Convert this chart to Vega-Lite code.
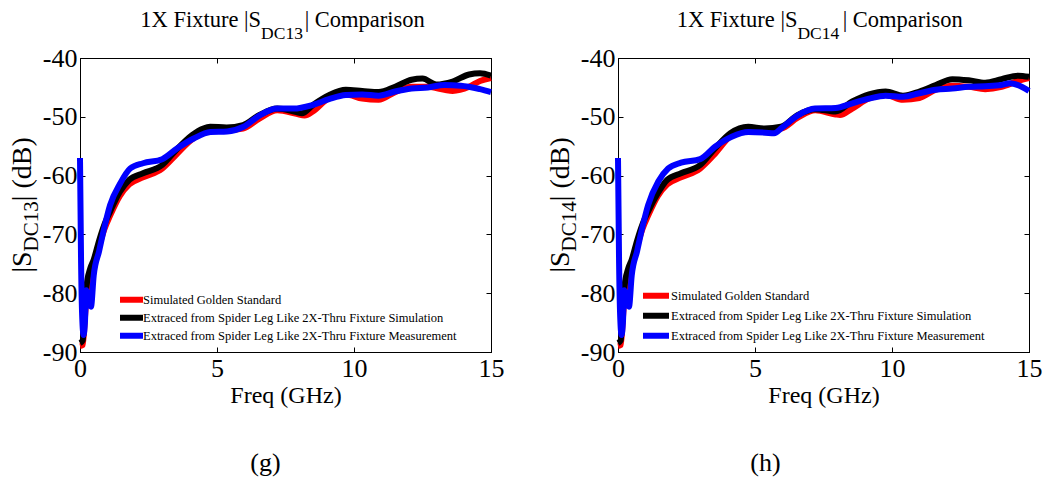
{
  "$schema": "https://vega.github.io/schema/vega-lite/v6.json",
  "background": "white",
  "padding": {"left": 8, "top": 8, "right": 5, "bottom": 5},
  "datasets": {
    "g": [
      {"s":"R","f":0,"v":-89},{"s":"R","f":0.1,"v":-88.8},{"s":"R","f":0.2,"v":-83},{"s":"R","f":0.3,"v":-78.8},{"s":"R","f":0.5,"v":-75.5},{"s":"R","f":0.7,"v":-72},{"s":"R","f":0.9,"v":-69},{"s":"R","f":1.1,"v":-66.8},{"s":"R","f":1.45,"v":-63.5},{"s":"R","f":1.8,"v":-61.5},{"s":"R","f":2.3,"v":-60.3},{"s":"R","f":3.0,"v":-58.8},{"s":"R","f":3.5,"v":-56.5},{"s":"R","f":4.1,"v":-53.8},{"s":"R","f":4.75,"v":-52.3},{"s":"R","f":5.35,"v":-52.3},{"s":"R","f":5.95,"v":-52.0},{"s":"R","f":6.55,"v":-50.3},{"s":"R","f":7.2,"v":-48.9},{"s":"R","f":7.9,"v":-49.5},{"s":"R","f":8.2,"v":-49.8},{"s":"R","f":8.5,"v":-49.1},{"s":"R","f":9.1,"v":-46.8},{"s":"R","f":9.7,"v":-46.2},{"s":"R","f":10.3,"v":-46.9},{"s":"R","f":10.9,"v":-47.1},{"s":"R","f":11.5,"v":-45.8},{"s":"R","f":12.1,"v":-44.9},{"s":"R","f":12.7,"v":-44.9},{"s":"R","f":13.3,"v":-45.4},{"s":"R","f":13.6,"v":-45.6},{"s":"R","f":14.2,"v":-44.9},{"s":"R","f":14.6,"v":-43.9},{"s":"R","f":15,"v":-43.4},
      {"s":"K","f":0,"v":-88.5},{"s":"K","f":0.1,"v":-88},{"s":"K","f":0.19,"v":-81},{"s":"K","f":0.26,"v":-78},{"s":"K","f":0.38,"v":-75.7},{"s":"K","f":0.5,"v":-74.3},{"s":"K","f":0.7,"v":-71},{"s":"K","f":0.9,"v":-68.2},{"s":"K","f":1.1,"v":-66.1},{"s":"K","f":1.45,"v":-62.8},{"s":"K","f":1.8,"v":-60.7},{"s":"K","f":2.3,"v":-59.6},{"s":"K","f":3.0,"v":-58.2},{"s":"K","f":3.5,"v":-55.7},{"s":"K","f":4.1,"v":-53.1},{"s":"K","f":4.5,"v":-52.0},{"s":"K","f":4.75,"v":-51.7},{"s":"K","f":5.35,"v":-51.8},{"s":"K","f":5.95,"v":-51.4},{"s":"K","f":6.55,"v":-49.7},{"s":"K","f":7.2,"v":-48.6},{"s":"K","f":7.9,"v":-49.2},{"s":"K","f":8.1,"v":-49.4},{"s":"K","f":8.5,"v":-48.0},{"s":"K","f":9.1,"v":-46.3},{"s":"K","f":9.7,"v":-45.4},{"s":"K","f":10.3,"v":-45.6},{"s":"K","f":10.9,"v":-45.8},{"s":"K","f":11.5,"v":-44.9},{"s":"K","f":12.1,"v":-43.7},{"s":"K","f":12.5,"v":-43.5},{"s":"K","f":13.0,"v":-44.5},{"s":"K","f":13.6,"v":-44.0},{"s":"K","f":14.2,"v":-42.8},{"s":"K","f":14.6,"v":-42.6},{"s":"K","f":15,"v":-43.0},
      {"s":"B","f":0,"v":-57},{"s":"B","f":0.04,"v":-75},{"s":"B","f":0.08,"v":-84},{"s":"B","f":0.13,"v":-87.1},{"s":"B","f":0.18,"v":-85},{"s":"B","f":0.23,"v":-79.5},{"s":"B","f":0.3,"v":-80.5},{"s":"B","f":0.4,"v":-82.3},{"s":"B","f":0.5,"v":-77},{"s":"B","f":0.7,"v":-72.8},{"s":"B","f":0.9,"v":-68.6},{"s":"B","f":1.1,"v":-65},{"s":"B","f":1.47,"v":-61.3},{"s":"B","f":1.83,"v":-58.8},{"s":"B","f":2.3,"v":-57.9},{"s":"B","f":3.0,"v":-57.2},{"s":"B","f":3.54,"v":-55.4},{"s":"B","f":4.15,"v":-53.7},{"s":"B","f":4.76,"v":-52.6},{"s":"B","f":5.37,"v":-52.5},{"s":"B","f":5.97,"v":-51.7},{"s":"B","f":6.58,"v":-49.7},{"s":"B","f":7.19,"v":-48.6},{"s":"B","f":7.8,"v":-48.6},{"s":"B","f":8.48,"v":-48.0},{"s":"B","f":9.09,"v":-47.0},{"s":"B","f":9.7,"v":-46.3},{"s":"B","f":10.3,"v":-46.2},{"s":"B","f":10.9,"v":-46.4},{"s":"B","f":11.5,"v":-45.7},{"s":"B","f":12.1,"v":-45.2},{"s":"B","f":12.7,"v":-45.0},{"s":"B","f":13.3,"v":-44.6},{"s":"B","f":13.9,"v":-44.7},{"s":"B","f":14.6,"v":-45.3},{"s":"B","f":15,"v":-45.8}
    ],
    "h": [
      {"s":"R","f":0,"v":-89},{"s":"R","f":0.1,"v":-88.8},{"s":"R","f":0.2,"v":-83},{"s":"R","f":0.3,"v":-78.8},{"s":"R","f":0.5,"v":-75.5},{"s":"R","f":0.7,"v":-72},{"s":"R","f":0.9,"v":-69},{"s":"R","f":1.1,"v":-66.8},{"s":"R","f":1.45,"v":-63.5},{"s":"R","f":1.8,"v":-61.5},{"s":"R","f":2.3,"v":-60.3},{"s":"R","f":3.0,"v":-58.8},{"s":"R","f":3.5,"v":-56.5},{"s":"R","f":4.1,"v":-53.3},{"s":"R","f":4.75,"v":-52.0},{"s":"R","f":5.35,"v":-52.2},{"s":"R","f":5.95,"v":-52.0},{"s":"R","f":6.55,"v":-50.2},{"s":"R","f":7.2,"v":-48.9},{"s":"R","f":7.94,"v":-49.6},{"s":"R","f":8.1,"v":-49.7},{"s":"R","f":8.55,"v":-48.6},{"s":"R","f":9.16,"v":-46.9},{"s":"R","f":9.77,"v":-46.3},{"s":"R","f":10.4,"v":-47.1},{"s":"R","f":11.0,"v":-46.8},{"s":"R","f":11.6,"v":-45.4},{"s":"R","f":12.2,"v":-44.7},{"s":"R","f":12.8,"v":-44.9},{"s":"R","f":13.4,"v":-45.3},{"s":"R","f":14.0,"v":-44.9},{"s":"R","f":14.6,"v":-43.9},{"s":"R","f":15,"v":-43.4},
      {"s":"K","f":0,"v":-88.5},{"s":"K","f":0.1,"v":-88},{"s":"K","f":0.19,"v":-81},{"s":"K","f":0.26,"v":-78},{"s":"K","f":0.38,"v":-75.7},{"s":"K","f":0.5,"v":-74.3},{"s":"K","f":0.7,"v":-71},{"s":"K","f":0.9,"v":-68.2},{"s":"K","f":1.1,"v":-66.1},{"s":"K","f":1.45,"v":-63},{"s":"K","f":1.8,"v":-60.7},{"s":"K","f":2.3,"v":-59.6},{"s":"K","f":3.0,"v":-58.2},{"s":"K","f":3.5,"v":-55.6},{"s":"K","f":4.1,"v":-52.8},{"s":"K","f":4.75,"v":-51.7},{"s":"K","f":5.35,"v":-52.0},{"s":"K","f":5.95,"v":-51.7},{"s":"K","f":6.55,"v":-49.7},{"s":"K","f":7.2,"v":-48.7},{"s":"K","f":7.94,"v":-49.1},{"s":"K","f":8.55,"v":-47.4},{"s":"K","f":9.16,"v":-46.2},{"s":"K","f":9.77,"v":-45.7},{"s":"K","f":10.4,"v":-46.4},{"s":"K","f":11.0,"v":-45.7},{"s":"K","f":11.6,"v":-44.6},{"s":"K","f":12.2,"v":-43.6},{"s":"K","f":12.8,"v":-43.8},{"s":"K","f":13.4,"v":-44.2},{"s":"K","f":14.0,"v":-43.6},{"s":"K","f":14.6,"v":-43.0},{"s":"K","f":15,"v":-43.2},
      {"s":"B","f":0,"v":-57},{"s":"B","f":0.04,"v":-75},{"s":"B","f":0.08,"v":-84},{"s":"B","f":0.13,"v":-87.1},{"s":"B","f":0.18,"v":-85},{"s":"B","f":0.23,"v":-79.5},{"s":"B","f":0.3,"v":-80.5},{"s":"B","f":0.4,"v":-82.3},{"s":"B","f":0.5,"v":-77},{"s":"B","f":0.7,"v":-72.8},{"s":"B","f":0.9,"v":-68.6},{"s":"B","f":1.1,"v":-65},{"s":"B","f":1.47,"v":-61},{"s":"B","f":1.83,"v":-58.8},{"s":"B","f":2.3,"v":-57.8},{"s":"B","f":3.0,"v":-57.2},{"s":"B","f":3.54,"v":-55.1},{"s":"B","f":4.15,"v":-53.4},{"s":"B","f":4.76,"v":-52.6},{"s":"B","f":5.37,"v":-52.7},{"s":"B","f":5.7,"v":-52.8},{"s":"B","f":5.97,"v":-51.9},{"s":"B","f":6.58,"v":-49.7},{"s":"B","f":7.19,"v":-48.6},{"s":"B","f":7.94,"v":-48.5},{"s":"B","f":8.55,"v":-47.7},{"s":"B","f":9.16,"v":-46.9},{"s":"B","f":9.77,"v":-46.4},{"s":"B","f":10.4,"v":-46.6},{"s":"B","f":11.0,"v":-46.0},{"s":"B","f":11.6,"v":-45.4},{"s":"B","f":12.2,"v":-45.2},{"s":"B","f":12.8,"v":-44.9},{"s":"B","f":13.4,"v":-44.8},{"s":"B","f":14.0,"v":-44.6},{"s":"B","f":14.3,"v":-44.3},{"s":"B","f":14.6,"v":-44.6},{"s":"B","f":15,"v":-45.6}
    ]
  },
  "hconcat": [
    {
      "width": 411, "height": 294,
      "title": {"text": "(g)", "orient": "bottom", "anchor": "middle", "dx": -20, "offset": 43, "fontSize": 26, "font": "Liberation Serif", "fontWeight": "normal", "color": "black"},
      "data": {"name": "g"},
      "resolve": {"axis": {"x": "independent", "y": "independent"}},
      "layer": [
        {
          "mark": {"type": "line", "strokeWidth": 6, "interpolate": "monotone"},
          "encoding": {
            "x": {"field": "f", "type": "quantitative", "scale": {"domain": [0, 15], "nice": false, "zero": false},
                  "axis": {"values": [0, 5, 10, 15], "title": "Freq (GHz)", "labelExpr": "'' + datum.value", "labelFont": "Liberation Serif", "titleFont": "Liberation Serif"}},
            "y": {"field": "v", "type": "quantitative", "scale": {"domain": [-90, -40], "nice": false, "zero": false},
                  "axis": {"values": [-90, -80, -70, -60, -50, -40], "title": null, "labelExpr": "'' + datum.value", "labelFont": "Liberation Serif"}},
            "color": {"field": "s", "type": "nominal", "scale": {"domain": ["R", "K", "B"], "range": ["#ff0000", "#000000", "#0000ff"]},
                      "legend": {"orient": "none", "legendX": 37, "legendY": 234, "title": null, "symbolType": "stroke", "symbolStrokeWidth": 6, "symbolSize": 529, "labelFont": "Liberation Serif", "labelFontSize": 12.5, "labelColor": "black", "labelOffset": -3, "clipHeight": 15.5, "rowPadding": 2, "labelLimit": 0, "padding": 0,
                                 "labelExpr": "datum.value == 'R' ? 'Simulated Golden Standard' : datum.value == 'K' ? 'Extraced from Spider Leg Like 2X-Thru Fixture Simulation' : 'Extraced from Spider Leg Like 2X-Thru Fixture Measurement'"}}
          }
        },
        {
          "mark": {"type": "point", "opacity": 0},
          "encoding": {
            "x": {"field": "f", "type": "quantitative", "scale": {"domain": [0, 15], "nice": false, "zero": false},
                  "axis": {"orient": "top", "values": [0, 5, 10, 15], "labels": false, "title": null}},
            "y": {"field": "v", "type": "quantitative", "scale": {"domain": [-90, -40], "nice": false, "zero": false},
                  "axis": {"orient": "right", "values": [-90, -80, -70, -60, -50, -40], "labels": false, "title": null}}
          }
        },
        {"data": {"values": [{}]}, "mark": {"type": "text", "align": "right", "baseline": "alphabetic", "fontSize": 22.5, "font": "Liberation Serif", "color": "black"},
         "encoding": {"x": {"datum": 6.61, "type": "quantitative", "axis": null}, "y": {"datum": -34.68, "type": "quantitative", "axis": null}, "text": {"value": "1X Fixture |S"}}},
        {"data": {"values": [{}]}, "mark": {"type": "text", "align": "left", "baseline": "alphabetic", "fontSize": 17.5, "font": "Liberation Serif", "color": "black"},
         "encoding": {"x": {"datum": 6.61, "type": "quantitative", "axis": null}, "y": {"datum": -36.77, "type": "quantitative", "axis": null}, "text": {"value": "DC13"}}},
        {"data": {"values": [{}]}, "mark": {"type": "text", "align": "left", "baseline": "alphabetic", "fontSize": 22.5, "font": "Liberation Serif", "color": "black"},
         "encoding": {"x": {"datum": 8.2, "type": "quantitative", "axis": null}, "y": {"datum": -34.68, "type": "quantitative", "axis": null}, "text": {"value": "| Comparison"}}},
        {"data": {"values": [{}]}, "mark": {"type": "text", "align": "left", "baseline": "alphabetic", "angle": 270, "fontSize": 28, "font": "Liberation Serif", "color": "black"},
         "encoding": {"x": {"datum": -1.79, "type": "quantitative", "axis": null}, "y": {"datum": -76.5, "type": "quantitative", "axis": null}, "text": {"value": "|S"}}},
        {"data": {"values": [{}]}, "mark": {"type": "text", "align": "left", "baseline": "alphabetic", "angle": 270, "fontSize": 21, "font": "Liberation Serif", "color": "black"},
         "encoding": {"x": {"datum": -1.55, "type": "quantitative", "axis": null}, "y": {"datum": -72.89, "type": "quantitative", "axis": null}, "text": {"value": "DC13"}}},
        {"data": {"values": [{}]}, "mark": {"type": "text", "align": "left", "baseline": "alphabetic", "angle": 270, "fontSize": 28, "font": "Liberation Serif", "color": "black"},
         "encoding": {"x": {"datum": -1.79, "type": "quantitative", "axis": null}, "y": {"datum": -64.35, "type": "quantitative", "axis": null}, "text": {"value": "| (dB)"}}}
      ]
    },
    {
      "width": 411, "height": 294,
      "title": {"text": "(h)", "orient": "bottom", "anchor": "middle", "dx": -58, "offset": 43, "fontSize": 26, "font": "Liberation Serif", "fontWeight": "normal", "color": "black"},
      "data": {"name": "h"},
      "resolve": {"axis": {"x": "independent", "y": "independent"}},
      "layer": [
        {
          "mark": {"type": "line", "strokeWidth": 6, "interpolate": "monotone"},
          "encoding": {
            "x": {"field": "f", "type": "quantitative", "scale": {"domain": [0, 15], "nice": false, "zero": false},
                  "axis": {"values": [0, 5, 10, 15], "title": "Freq (GHz)", "labelExpr": "'' + datum.value", "labelFont": "Liberation Serif", "titleFont": "Liberation Serif"}},
            "y": {"field": "v", "type": "quantitative", "scale": {"domain": [-90, -40], "nice": false, "zero": false},
                  "axis": {"values": [-90, -80, -70, -60, -50, -40], "title": null, "labelExpr": "'' + datum.value", "labelFont": "Liberation Serif"}},
            "color": {"field": "s", "type": "nominal", "scale": {"domain": ["R", "K", "B"], "range": ["#ff0000", "#000000", "#0000ff"]},
                      "legend": {"orient": "none", "legendX": 22, "legendY": 229, "title": null, "symbolType": "stroke", "symbolStrokeWidth": 6, "symbolSize": 676, "labelFont": "Liberation Serif", "labelFontSize": 12.5, "labelColor": "black", "labelOffset": -1, "clipHeight": 17.5, "rowPadding": 2, "labelLimit": 0, "padding": 0,
                                 "labelExpr": "datum.value == 'R' ? 'Simulated Golden Standard' : datum.value == 'K' ? 'Extraced from Spider Leg Like 2X-Thru Fixture Simulation' : 'Extraced from Spider Leg Like 2X-Thru Fixture Measurement'"}}
          }
        },
        {
          "mark": {"type": "point", "opacity": 0},
          "encoding": {
            "x": {"field": "f", "type": "quantitative", "scale": {"domain": [0, 15], "nice": false, "zero": false},
                  "axis": {"orient": "top", "values": [0, 5, 10, 15], "labels": false, "title": null}},
            "y": {"field": "v", "type": "quantitative", "scale": {"domain": [-90, -40], "nice": false, "zero": false},
                  "axis": {"orient": "right", "values": [-90, -80, -70, -60, -50, -40], "labels": false, "title": null}}
          }
        },
        {"data": {"values": [{}]}, "mark": {"type": "text", "align": "right", "baseline": "alphabetic", "fontSize": 22.5, "font": "Liberation Serif", "color": "black"},
         "encoding": {"x": {"datum": 6.55, "type": "quantitative", "axis": null}, "y": {"datum": -34.68, "type": "quantitative", "axis": null}, "text": {"value": "1X Fixture |S"}}},
        {"data": {"values": [{}]}, "mark": {"type": "text", "align": "left", "baseline": "alphabetic", "fontSize": 17.5, "font": "Liberation Serif", "color": "black"},
         "encoding": {"x": {"datum": 6.55, "type": "quantitative", "axis": null}, "y": {"datum": -36.77, "type": "quantitative", "axis": null}, "text": {"value": "DC14"}}},
        {"data": {"values": [{}]}, "mark": {"type": "text", "align": "left", "baseline": "alphabetic", "fontSize": 22.5, "font": "Liberation Serif", "color": "black"},
         "encoding": {"x": {"datum": 8.2, "type": "quantitative", "axis": null}, "y": {"datum": -34.68, "type": "quantitative", "axis": null}, "text": {"value": "| Comparison"}}},
        {"data": {"values": [{}]}, "mark": {"type": "text", "align": "left", "baseline": "alphabetic", "angle": 270, "fontSize": 28, "font": "Liberation Serif", "color": "black"},
         "encoding": {"x": {"datum": -1.79, "type": "quantitative", "axis": null}, "y": {"datum": -76.5, "type": "quantitative", "axis": null}, "text": {"value": "|S"}}},
        {"data": {"values": [{}]}, "mark": {"type": "text", "align": "left", "baseline": "alphabetic", "angle": 270, "fontSize": 21, "font": "Liberation Serif", "color": "black"},
         "encoding": {"x": {"datum": -1.55, "type": "quantitative", "axis": null}, "y": {"datum": -72.89, "type": "quantitative", "axis": null}, "text": {"value": "DC14"}}},
        {"data": {"values": [{}]}, "mark": {"type": "text", "align": "left", "baseline": "alphabetic", "angle": 270, "fontSize": 28, "font": "Liberation Serif", "color": "black"},
         "encoding": {"x": {"datum": -1.79, "type": "quantitative", "axis": null}, "y": {"datum": -64.35, "type": "quantitative", "axis": null}, "text": {"value": "| (dB)"}}}
      ]
    }
  ],
  "spacing": 41,
  "resolve": {"scale": {"color": "independent"}},
  "config": {
    "font": "Liberation Serif",
    "view": {"stroke": "black", "strokeWidth": 1},
    "axis": {
      "grid": false, "domainColor": "black", "domainWidth": 1, "tickColor": "black", "tickWidth": 1,
      "tickSize": -5, "labelPadding": 8, "labelColor": "black", "titleColor": "black",
      "labelFont": "Liberation Serif", "titleFont": "Liberation Serif", "labelFontSize": 26, "titleFontSize": 24,
      "titleFontWeight": "normal", "titlePadding": 2, "labelFlush": false, "labelOverlap": false
    }
  }
}
